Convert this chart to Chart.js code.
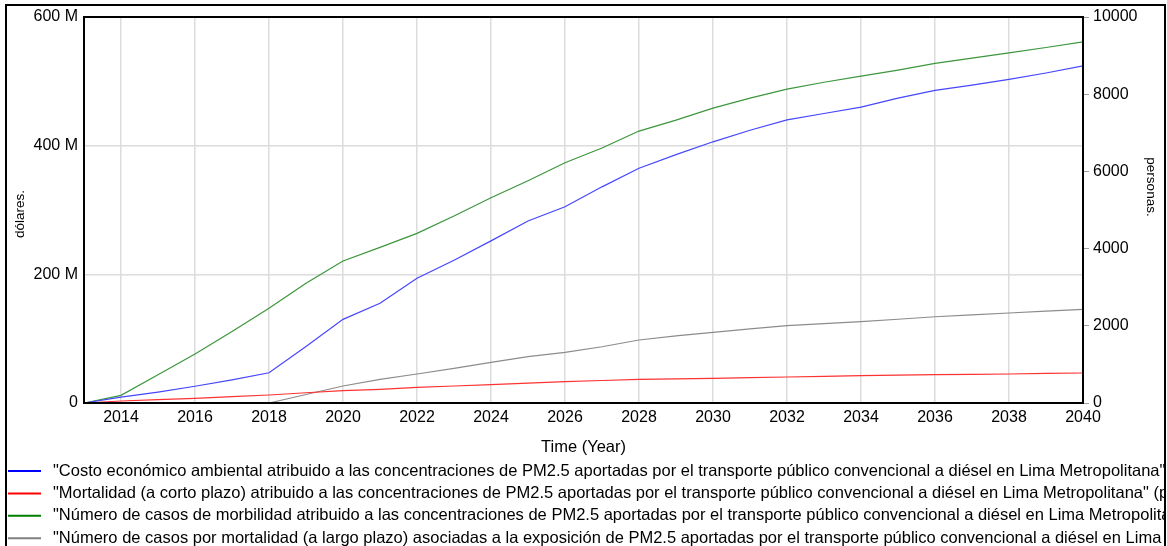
<!DOCTYPE html>
<html>
<head>
<meta charset="utf-8">
<script src="https://cdn.jsdelivr.net/npm/chart.js@4"></script>
<style>
  html, body { margin: 0; padding: 0; background: #fff; }
  canvas { display: block; }
</style>
</head>
<body>
<canvas id="chart" width="1167" height="546"></canvas>
<script>
// Datos
var years = [2013, 2014, 2015, 2016, 2017, 2018, 2019, 2020, 2021, 2022, 2023, 2024, 2025, 2026,
             2027, 2028, 2029, 2030, 2031, 2032, 2033, 2034, 2035, 2036, 2037, 2038, 2039, 2040]
var xTicks = [2014, 2016, 2018, 2020, 2022, 2024, 2026, 2028, 2030, 2032, 2034, 2036, 2038, 2040]

// millones de dólares (eje izquierdo)
var costoEconomico = [0, 9, 17, 26, 36, 47, 88, 130, 155, 194, 222, 252, 283, 305,
                      336, 365, 386, 406, 424, 440, 450, 460, 474, 486, 494, 503, 513, 524]
// personas (eje derecho)
var mortalidadCorto = [0, 52, 85, 121, 165, 207, 265, 319, 355, 406, 440, 474, 513, 552,
                       583, 614, 627, 640, 657, 673, 690, 708, 722, 734, 742, 751, 765, 777]
var morbilidad = [0, 199, 730, 1269, 1850, 2453, 3100, 3678, 4033, 4395, 4843, 5318, 5759, 6225,
                  6605, 7045, 7330, 7640, 7900, 8130, 8310, 8470, 8625, 8800, 8935, 9070, 9210, 9355]
var mortalidadLargo = [0, 0, 0, 0, 0, 0, 220, 440, 614, 751, 898, 1054, 1200, 1313,
                       1458, 1632, 1740, 1831, 1920, 2002, 2055, 2106, 2170, 2235, 2285, 2331, 2380, 2427]

var labels = [
    '"Costo económico ambiental atribuido a las concentraciones de PM2.5 aportadas por el transporte público convencional a diésel en Lima Metropolitana" (dólares)',
    '"Mortalidad (a corto plazo) atribuido a las concentraciones de PM2.5 aportadas por el transporte público convencional a diésel en Lima Metropolitana" (personas)',
    '"Número de casos de morbilidad atribuido a las concentraciones de PM2.5 aportadas por el transporte público convencional a diésel en Lima Metropolitana" (personas)',
    '"Número de casos por mortalidad (a largo plazo) asociadas a la exposición de PM2.5 aportadas por el transporte público convencional a diésel en Lima Metropolitana" (personas)'
]

var FONT = "'Liberation Sans', Arial, sans-serif"

function toPoints(values, scale) {
    return years.map(function (y, i) { return { x: y, y: values[i] * scale } })
}

// marcos, títulos verticales y leyenda dibujados a mano
var framePlugin = {
    id: 'frame',
    afterDraw: function (chart) {
        var ctx = chart.ctx
        var a = chart.chartArea
        ctx.save()
        ctx.strokeStyle = '#000'
        ctx.lineWidth = 2
        ctx.strokeRect(a.left, a.top, a.right - a.left, a.bottom - a.top)
        ctx.strokeRect(6, 5, 1159, 580)

        ctx.fillStyle = '#000'
        ctx.font = '13.5px ' + FONT
        ctx.textAlign = 'center'
        ctx.textBaseline = 'middle'
        ctx.save()
        ctx.translate(20, 214)
        ctx.rotate(-Math.PI / 2)
        ctx.fillText('dólares.', 0, 0)
        ctx.restore()
        ctx.save()
        ctx.translate(1151, 187)
        ctx.rotate(Math.PI / 2)
        ctx.fillText('personas.', 0, 0)
        ctx.restore()

        ctx.beginPath()
        ctx.rect(7, 455, 1157, 91)
        ctx.clip()
        ctx.font = '16.5px ' + FONT
        ctx.textAlign = 'left'
        chart.data.datasets.forEach(function (ds, i) {
            var y = 471 + i * 22.4
            ctx.strokeStyle = ds.legendColor
            ctx.lineWidth = 2
            ctx.beginPath()
            ctx.moveTo(8, y)
            ctx.lineTo(41, y)
            ctx.stroke()
            ctx.fillStyle = '#000'
            ctx.fillText(ds.label, 53, y)
        })
        ctx.restore()
    }
}

new Chart(document.getElementById('chart').getContext('2d'), {
    type: 'line',
    data: {
        datasets: [{
            label: labels[0],
            data: toPoints(costoEconomico, 1e6),
            yAxisID: 'y',
            borderColor: 'rgb(70, 70, 255)',
            legendColor: 'rgb(0, 0, 255)'
        }, {
            label: labels[1],
            data: toPoints(mortalidadCorto, 1),
            yAxisID: 'y1',
            borderColor: 'rgb(255, 50, 50)',
            legendColor: 'rgb(255, 0, 0)'
        }, {
            label: labels[2],
            data: toPoints(morbilidad, 1),
            yAxisID: 'y1',
            borderColor: 'rgb(60, 150, 60)',
            legendColor: 'rgb(0, 128, 0)'
        }, {
            label: labels[3],
            data: toPoints(mortalidadLargo, 1),
            yAxisID: 'y1',
            borderColor: 'rgb(140, 140, 140)',
            legendColor: 'rgb(128, 128, 128)'
        }]
    },
    options: {
        responsive: false,
        animation: false,
        layout: { padding: { left: 6, top: 17, right: 2, bottom: 86 } },
        elements: {
            line: { borderWidth: 1.2, tension: 0 },
            point: { radius: 0 }
        },
        plugins: {
            legend: { display: false },
            tooltip: { enabled: false }
        },
        scales: {
            x: {
                type: 'linear',
                min: 2013,
                max: 2040,
                afterBuildTicks: function (scale) {
                    scale.ticks = xTicks.map(function (v) { return { value: v } })
                },
                afterFit: function (scale) { scale.height = 57 },
                ticks: {
                    color: '#000',
                    font: { family: FONT, size: 16 },
                    padding: 5,
                    maxRotation: 0,
                    callback: function (v) { return String(v) }
                },
                grid: { color: 'rgb(220, 220, 220)', lineWidth: 1.5, drawTicks: false },
                border: { display: false },
                title: {
                    display: true,
                    text: 'Time (Year)',
                    color: '#000',
                    font: { family: FONT, size: 16.5 },
                    padding: { top: 4, bottom: 3 }
                }
            },
            y: {
                position: 'left',
                min: 0,
                max: 600e6,
                afterFit: function (scale) { scale.width = 78 },
                ticks: {
                    stepSize: 200e6,
                    color: '#000',
                    font: { family: FONT, size: 16 },
                    padding: 6,
                    callback: function (v) { return v === 0 ? '0' : (v / 1e6) + ' M' }
                },
                grid: { color: 'rgb(220, 220, 220)', lineWidth: 1.5, drawTicks: false },
                border: { display: false }
            },
            y1: {
                position: 'right',
                min: 0,
                max: 10000,
                afterFit: function (scale) { scale.width = 82 },
                ticks: {
                    stepSize: 2000,
                    color: '#000',
                    font: { family: FONT, size: 16 },
                    padding: 4,
                    callback: function (v) { return String(v) }
                },
                grid: { drawOnChartArea: false, drawTicks: true, tickLength: 6, color: 'rgb(160, 160, 160)' },
                border: { display: false }
            }
        }
    },
    plugins: [framePlugin]
})
</script>
</body>
</html>
